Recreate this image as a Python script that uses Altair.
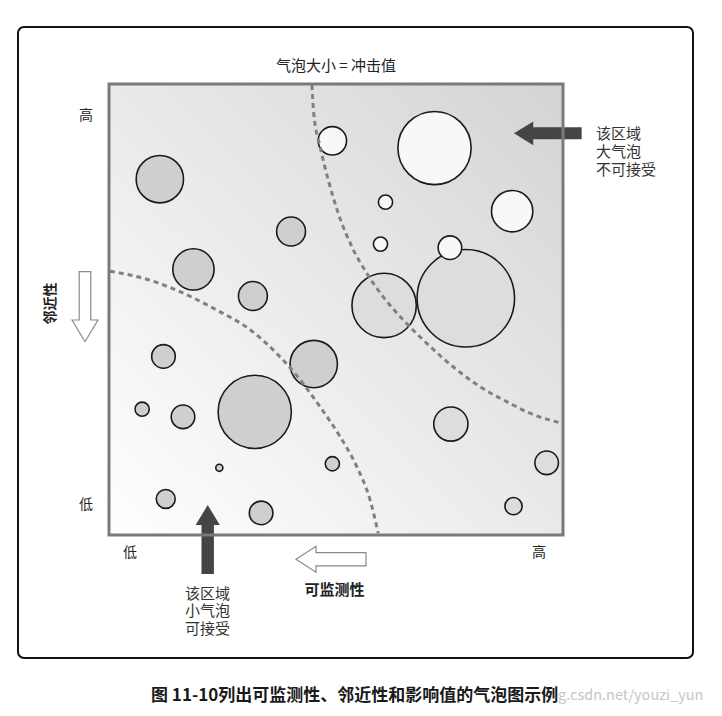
import altair as alt
import pandas as pd

FONT = "Noto Sans CJK SC"

# ---- bubbles: monitorability (x), proximity (y), impact (bubble area), zone ----
monitor = [78.6, 49.2, 71.7, 11.2, 60.9, 88.8, 40.1, 59.8, 75.1, 18.6, 31.7, 60.6,
           12.0, 45.1, 32.1, 7.3, 16.3, 75.3, 24.3, 49.2, 96.4, 12.5, 33.5, 89.1]
proximity = [52.5, 87.4, 85.8, 78.9, 73.8, 71.8, 67.3, 64.5, 63.7, 58.9, 53.0, 50.9,
             39.6, 37.9, 27.3, 27.9, 26.2, 24.6, 14.9, 15.8, 16.0, 8.0, 4.9, 6.4]
impact = [302.5, 25.6, 170.6, 71.3, 6.4, 54.3, 26.6, 6.4, 17.7, 54.3, 26.6, 131.8,
          17.7, 71.3, 170.6, 6.4, 17.7, 37.2, 1.6, 6.4, 17.7, 11.4, 17.7, 9.4]
zone = ["边界", "不可接受", "不可接受", "可接受", "不可接受", "不可接受", "可接受", "不可接受",
        "不可接受", "可接受", "可接受", "边界", "可接受", "可接受", "可接受", "可接受",
        "可接受", "边界", "可接受", "可接受", "边界", "可接受", "可接受", "边界"]
zones = ["可接受", "边界", "不可接受"]
zone_colors = ["#cfcfcf", "#dddddd", "#f8f8f8"]

# ---- dashed boundary curves ----
curveA_x = [44.7, 45.1, 46.5, 48.3, 50.5, 53.5, 56.8, 60.4, 64.8, 70.0, 75.8, 81.7, 88.3, 92.7, 99.7]
curveA_y = [99.8, 93.5, 86.1, 78.7, 71.3, 63.9, 58.0, 52.8, 47.7, 42.5, 37.3, 32.9, 29.2, 27.0, 24.8]
curveB_x = [0.2, 9.0, 16.4, 23.7, 31.1, 36.9, 42.1, 46.5, 50.9, 54.6, 57.5, 59.3]
curveB_y = [58.5, 56.5, 53.6, 49.9, 45.5, 40.3, 34.4, 28.4, 21.8, 15.1, 7.8, 0.4]

bubbles = pd.DataFrame({
    "可监测性": monitor, "邻近性": proximity, "冲击值": impact, "区域": zone,
    "idx": list(range(len(monitor))),
})
curves = pd.DataFrame({
    "curve": ["A"] * len(curveA_x) + ["B"] * len(curveB_x),
    "seq": list(range(len(curveA_x))) + list(range(len(curveB_x))),
    "x": curveA_x + curveB_x,
    "y": curveA_y + curveB_y,
})
one = pd.DataFrame({"k": [0]})

xs = alt.Scale(domain=[0, 100], nice=False, zero=False)
ys = alt.Scale(domain=[0, 100], nice=False, zero=False)

bg = alt.Chart(one).mark_rect(
    fill=alt.LinearGradient(
        gradient="linear",
        stops=[alt.GradientStop(color="#ffffff", offset=0),
               alt.GradientStop(color="#d4d4d4", offset=1)],
        x1=0, y1=1, x2=1, y2=0),
).encode(x=alt.datum(0, scale=xs, axis=None), x2=alt.datum(100),
         y=alt.datum(0, scale=ys, axis=None), y2=alt.datum(100))

circles = alt.Chart(bubbles).mark_circle(
    stroke="#1a1a1a", strokeWidth=1.6, opacity=1, fillOpacity=1
).encode(
    x=alt.X("可监测性:Q", scale=xs, axis=None),
    y=alt.Y("邻近性:Q", scale=ys, axis=None),
    size=alt.Size("冲击值:Q", scale=alt.Scale(domain=[0, 302.5], range=[0, 9503.3]), legend=None),
    fill=alt.Fill("区域:N", scale=alt.Scale(domain=zones, range=zone_colors), legend=None),
    order=alt.Order("idx:Q"),
)

lines = alt.Chart(curves).mark_line(
    strokeDash=[5, 4], strokeWidth=3, color="#808080", interpolate="monotone"
).encode(
    x=alt.X("x:Q", scale=xs, axis=None),
    y=alt.Y("y:Q", scale=ys, axis=None),
    detail="curve:N",
    order="seq:Q",
)

frame = alt.Chart(one).mark_rect(
    fillOpacity=0, stroke="#7a7a7a", strokeWidth=3
).encode(x=alt.datum(0, scale=xs, axis=None), x2=alt.datum(100),
         y=alt.datum(0, scale=ys, axis=None), y2=alt.datum(100))

outer = alt.Chart(one).mark_rect(
    fillOpacity=0, stroke="#111111", strokeWidth=2, cornerRadius=6
).encode(x=alt.value(-91), x2=alt.value(584), y=alt.value(-57), y2=alt.value(574))


def arrow(path, x, y, length, fill, stroke=None, sw=0):
    props = dict(shape=path, size=length ** 2, filled=True, fill=fill, opacity=1, fillOpacity=1)
    if stroke:
        props.update(stroke=stroke, strokeWidth=sw, strokeOpacity=1)
    return alt.Chart(one).mark_point(**props).encode(x=alt.value(x), y=alt.value(y))


up_dark = arrow("M0,-1L0.35,-0.42L0.18,-0.42L0.18,1L-0.18,1L-0.18,-0.42L-0.35,-0.42Z",
                98.7, 455.5, 69, "#454545")
left_dark = arrow("M-1,0L-0.43,-0.35L-0.43,-0.177L1,-0.177L1,0.177L-0.43,0.177L-0.43,0.35Z",
                  438.8, 49.3, 67.7, "#454545")
down_hollow = arrow("M-0.166,-1L0.166,-1L0.166,0.38L0.37,0.38L0,1L-0.37,0.38L-0.166,0.38Z",
                    -24, 222.7, 70, "#ffffff", "#8a8a8a", 1.2)
left_hollow = arrow("M-1,0L-0.43,-0.37L-0.43,-0.19L1,-0.19L1,0.19L-0.43,0.19L-0.43,0.37Z",
                    222, 475.3, 70, "#ffffff", "#8a8a8a", 1.2)


def label(txt, x, y, size=14, weight="normal", align="center", angle=0, color="#222222", lh=18):
    props = dict(text=txt, fontSize=size, fontWeight=weight, align=align, baseline="middle",
                 color=color, font=FONT, lineBreak="\n", lineHeight=lh)
    if angle:
        props["angle"] = angle
    return alt.Chart(one).mark_text(**props).encode(x=alt.value(x), y=alt.value(y))


texts = [
    label("气泡大小 = 冲击值", 227, -18, size=15),
    label("高", -23, 32),
    label("低", -23, 421),
    label("低", 21, 469),
    label("高", 430, 469),
    label("邻近性", -58.5, 219.5, size=14, weight="bold", angle=270),
    label("可监测性", 225.5, 505.5, size=15, weight="bold"),
    label("该区域\n小气泡\n可接受", 98.5, 509.5, size=15, color="#333333", lh=17.5),
    label("该区域\n大气泡\n不可接受", 487, 49.5, size=15, align="left", color="#333333", lh=18),
    label("图 11-10列出可监测性、邻近性和影响值的气泡图示例", 42, 612, size=17,
          weight="bold", align="left", color="#1a1a1a"),
    label("g.csdn.net/youzi_yun", 449, 612, size=14.5, align="left", color="#c6c6c6"),
]

chart = alt.layer(
    bg, circles, lines, up_dark, left_dark, frame, outer, down_hollow, left_hollow, *texts
).properties(
    width=454, height=451,
    padding={"left": 101, "top": 76, "right": 150, "bottom": 178},
    autosize=alt.AutoSizeParams(type="none"),
).configure(background="#ffffff").configure_view(stroke="transparent")

chart.save("out.html", embed_options={"renderer": "svg", "actions": False})
